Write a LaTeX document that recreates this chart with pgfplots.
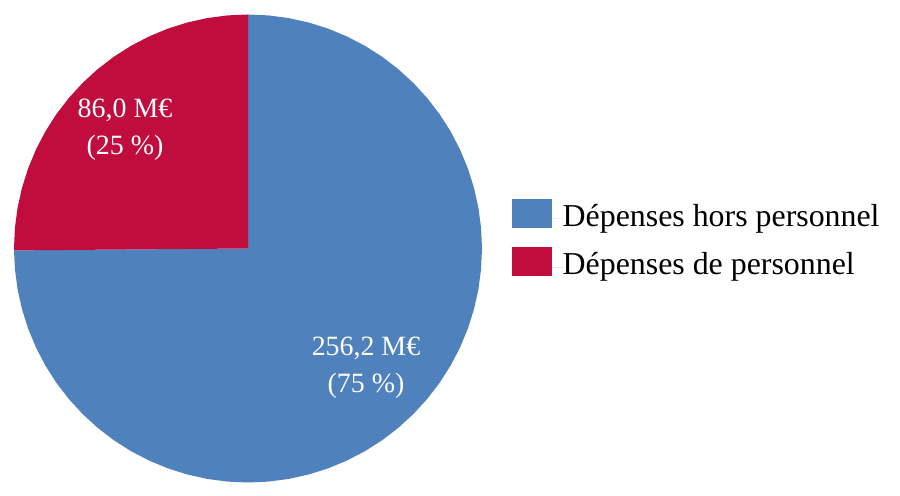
\documentclass[border=0pt]{standalone}
\usepackage{fontspec}
\setmainfont{Liberation Serif}
\usepackage{pgfplots}
\pgfplotsset{compat=1.18}
\usepgfplotslibrary{polar}
\definecolor{pieblue}{RGB}{79,129,189}
\definecolor{piered}{RGB}{192,13,62}
\begin{document}
\begin{tikzpicture}
\path[use as bounding box] (0,0) rectangle (900bp,496bp);
\begin{polaraxis}[
  at={(248bp,247.5bp)}, anchor=center,
  width=468bp, height=468bp, scale only axis,
  ymin=0, ymax=1, hide axis, clip=false,
  legend style={draw=none, fill=none, inner sep=0pt, at={(1.064,0.518)}, anchor=west,
    nodes={inner sep=0pt, text height=22bp, text depth=7bp, font=\fontsize{32}{38}\selectfont},
    row sep=14bp},
  legend cell align=left,
  legend image code/.code={\fill[#1] (0bp,-9bp) rectangle (40bp,20bp); \path (0bp,0bp) -- (50.5bp,0bp);},
]
% Dépenses hors personnel : 256,2 M€ (from 180.47° to 450°)
\addplot[fill=pieblue, draw=none] coordinates {
 (0,0) (180.47,1) (185,1) (190,1) (195,1) (200,1) (205,1) (210,1) (215,1) (220,1) (225,1)
 (230,1) (235,1) (240,1) (245,1) (250,1) (255,1) (260,1) (265,1) (270,1) (275,1) (280,1)
 (285,1) (290,1) (295,1) (300,1) (305,1) (310,1) (315,1) (320,1) (325,1) (330,1) (335,1)
 (340,1) (345,1) (350,1) (355,1) (360,1) (365,1) (370,1) (375,1) (380,1) (385,1) (390,1)
 (395,1) (400,1) (405,1) (410,1) (415,1) (420,1) (425,1) (430,1) (435,1) (440,1) (445,1)
 (450,1) (0,0)};
\addlegendentry{Dépenses hors personnel}
% Dépenses de personnel : 86,0 M€ (from 90° to 180.47°)
\addplot[fill=piered, draw=none] coordinates {
 (0,0) (90,1) (95,1) (100,1) (105,1) (110,1) (115,1) (120,1) (125,1) (130,1) (135,1)
 (140,1) (145,1) (150,1) (155,1) (160,1) (165,1) (170,1) (175,1) (180,1) (180.47,1) (0,0)};
\addlegendentry{Dépenses de personnel}
\end{polaraxis}
\node[white, align=center, font=\fontsize{28}{37}\selectfont, inner sep=0pt] at (125bp,366bp) {86,0 M€\\(25 \%)};
\node[white, align=center, font=\fontsize{28}{37}\selectfont, inner sep=0pt] at (366bp,128bp) {256,2 M€\\(75 \%)};
\end{tikzpicture}
\end{document}
